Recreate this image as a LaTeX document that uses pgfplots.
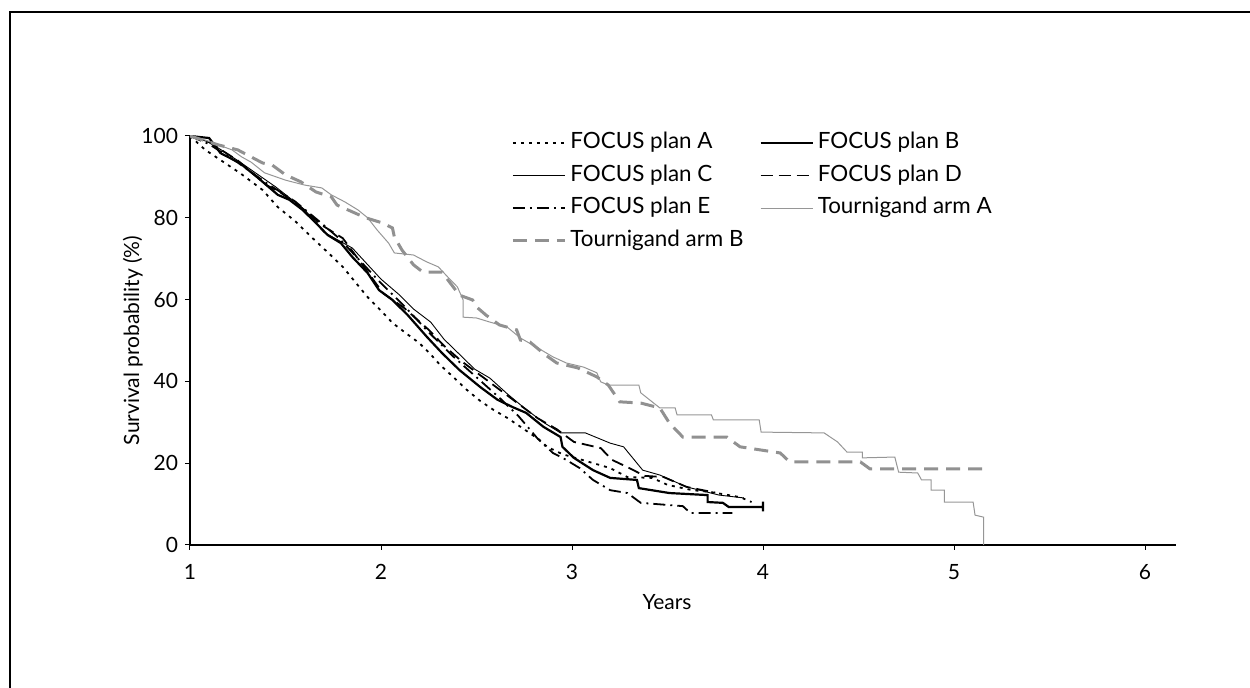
\documentclass[border=0pt]{standalone}
\usepackage{pgfplots}
\pgfplotsset{compat=1.18}
\usepackage{fontspec}
\setmainfont{Lato}
\definecolor{tgA}{RGB}{150,150,150}
\definecolor{tgB}{RGB}{145,145,145}
\begin{document}
\begin{tikzpicture}
\useasboundingbox (0,0) rectangle (625pt,344pt);
\draw[line width=1pt] (5pt,0pt) -- (5pt,338pt) -- (625pt,338pt);
\begin{axis}[
  at={(95pt,71.5pt)}, anchor=south west,
  scale only axis, width=492.8pt, height=204.5pt,
  xmin=1, xmax=6.16, ymin=0, ymax=100,
  axis x line*=bottom, axis y line*=left,
  axis line style={line width=0.6pt, black},
  xtick={1,2,3,4,5,6}, ytick={0,20,40,60,80,100},
  tick align=outside, major tick length=2.5pt,
  tick style={line width=0.5pt, black},
  font=\fontsize{10.5}{12}\selectfont,
  xticklabel style={yshift=-3.5pt},
  /pgf/number format/assume math mode=true,
  xlabel={Years}, ylabel={Survival probability (\%)},
  every axis x label/.style={at={(axis description cs:0.484,-0.139)},anchor=center},
  every axis y label/.style={at={(axis description cs:-0.058,0.5)},rotate=90,anchor=center},
  legend columns=2,
  legend cell align=left,
  legend style={draw=none, fill=none, at={(axis description cs:0.3196,1.03)}, anchor=north west,
    font=\fontsize{11.2}{12}\selectfont, row sep=1.5pt,
    nodes={inner sep=2pt, text height=8.3pt, text depth=2.5pt},
    /tikz/every even column/.append style={column sep=6pt}},
  legend image code/.code={\draw[#1] (0pt,0pt) -- (26pt,0pt);},
]
% FOCUS plan A
\addplot[black, line width=0.9pt, dash pattern=on 1.5pt off 2.5pt] coordinates {
(1,100)(1.08,96.6)(1.26,91.0)(1.38,86.8)(1.46,82.6)(1.55,79.2)(1.64,75.1)(1.72,71.6)(1.80,68.0)(1.87,64.0)(1.93,60.6)(2.00,57.3)(2.06,54.3)(2.13,51.8)(2.20,49.4)(2.26,46.6)(2.31,44.0)(2.38,41.0)(2.45,37.9)(2.52,35.2)(2.59,33.0)(2.66,31.1)(2.74,28.6)(2.83,25.7)(2.87,24.0)(2.95,22.2)(3.09,20.3)(3.20,18.8)(3.29,16.6)(3.42,16.4)(3.50,14.7)(3.63,13.4)(3.72,13.0)(3.88,11.7)(3.94,10.5)
};
\addlegendentry{FOCUS plan A}
% FOCUS plan B
\addplot[black, line width=1.1pt] coordinates {
(1.00,100)(1.10,99.5)(1.16,95.8)(1.26,93.4)(1.35,90.0)(1.46,85.6)(1.52,84.4)(1.59,81.9)(1.66,78.7)(1.72,75.8)(1.79,73.8)(1.85,70.4)(1.93,66.5)(1.99,62.3)(2.06,59.9)(2.14,56.2)(2.24,50.9)(2.32,46.9)(2.41,42.8)(2.52,38.6)(2.61,35.5)(2.69,33.7)(2.76,32.3)(2.85,28.9)(2.94,26.4)(2.95,24.0)(3.01,21.3)(3.11,18.3)(3.20,16.4)(3.34,15.9)(3.35,13.9)(3.51,12.7)(3.71,12.2)(3.71,10.5)(3.79,10.3)(3.82,9.3)(4.00,9.3)(4.00,10.6)(4.00,8.2)
};
\addlegendentry{FOCUS plan B}
% FOCUS plan C
\addplot[black, line width=0.45pt] coordinates {
(1,100)(1.10,98.5)(1.25,94)(1.45,87.5)(1.60,82)(1.70,76.5)(1.85,72.6)(2.00,65)(2.10,61)(2.17,57.7)(2.26,54.5)(2.33,50.3)(2.42,46.2)(2.49,43)(2.57,40.8)(2.66,37)(2.75,33.5)(2.85,30)(2.94,27.4)(3.07,27.4)(3.20,24.9)(3.27,24.0)(3.37,18.3)(3.46,17.1)(3.60,14.2)(3.77,12.2)(3.90,11.5)
};
\addlegendentry{FOCUS plan C}
% FOCUS plan D
\addplot[black, line width=0.9pt, dash pattern=on 6pt off 3pt] coordinates {
(1,100)(1.10,98.5)(1.25,94)(1.40,88)(1.47,86.3)(1.58,82.6)(1.69,78.2)(1.80,75)(1.90,68.7)(2.01,61.6)(2.12,58)(2.25,52.6)(2.33,48.7)(2.42,45)(2.52,41.5)(2.62,38)(2.72,34.5)(2.82,31)(2.92,28.3)(3.01,25.2)(3.15,23.7)(3.21,20.8)(3.30,18.8)(3.38,16.9)(3.48,16.6)(3.60,14.2)(3.75,12.8)
};
\addlegendentry{FOCUS plan D}
% FOCUS plan E
\addplot[black, line width=0.9pt, dash pattern=on 6pt off 2.5pt on 1pt off 2.5pt] coordinates {
(1,100)(1.10,98)(1.25,93.5)(1.40,88.5)(1.55,84)(1.68,79)(1.78,75)(1.88,70)(2.00,64)(2.12,58.5)(2.25,52)(2.38,46)(2.50,41)(2.62,36)(2.72,31.5)(2.82,26)(2.90,22.5)(2.97,20.8)(3.04,18.8)(3.11,15.9)(3.20,13.4)(3.29,12.7)(3.36,10.3)(3.58,9.5)(3.62,7.8)(3.84,7.8)
};
\addlegendentry{FOCUS plan E}
% Tournigand arm A
\addplot[tgA, line width=0.5pt] coordinates {
(1.00,100)(1.08,99.0)(1.15,97.8)(1.22,96.6)(1.27,94.9)(1.32,93.6)(1.39,91.0)(1.50,89.2)(1.60,88.0)(1.69,87.3)(1.74,85.6)(1.81,83.9)(1.88,81.9)(1.93,80.0)(1.98,77.0)(2.04,73.8)(2.07,71.4)(2.17,70.9)(2.24,69.2)(2.30,68.0)(2.35,65.5)(2.40,63.1)(2.43,59.9)(2.43,55.7)(2.50,55.5)(2.57,54.5)(2.66,53.3)(2.73,50.6)(2.82,48.2)(2.90,46.0)(2.97,44.5)(3.06,43.5)(3.13,42.1)(3.15,39.9)(3.19,39.1)(3.35,39.1)(3.36,37.2)(3.46,33.5)(3.54,33.5)(3.55,31.8)(3.73,31.8)(3.74,30.6)(3.98,30.6)(3.99,27.6)(4.32,27.4)(4.39,25.2)(4.44,22.7)(4.52,22.7)(4.52,21.3)(4.69,21.5)(4.71,17.8)(4.81,17.6)(4.83,15.9)(4.88,15.9)(4.88,13.4)(4.95,13.4)(4.95,10.5)(5.10,10.5)(5.11,7.3)(5.155,6.8)(5.155,0)
};
\addlegendentry{Tournigand arm A}
% Tournigand arm B
\addplot[tgB, line width=1.5pt, dash pattern=on 7pt off 4pt] coordinates {
(1,100)(1.15,97.8)(1.25,96.6)(1.38,93.4)(1.43,92.9)(1.50,90.5)(1.58,88.8)(1.66,86.3)(1.74,85.1)(1.77,83.1)(1.92,80.0)(2.01,78.7)(2.06,77.5)(2.07,75.3)(2.11,72.1)(2.17,68.5)(2.22,66.7)(2.32,66.7)(2.41,61.1)(2.48,59.9)(2.50,58.2)(2.55,56.2)(2.62,53.8)(2.71,52.6)(2.73,50.1)(2.78,49.6)(2.86,46.5)(2.92,44.5)(3.03,43.3)(3.13,41.1)(3.19,39.1)(3.25,35.0)(3.36,34.7)(3.46,33.5)(3.51,29.8)(3.58,26.4)(3.81,26.4)(3.88,24.0)(4.09,22.5)(4.14,20.3)(4.51,20.3)(4.56,18.6)(5.155,18.6)
};
\addlegendentry{Tournigand arm B}
\end{axis}
\end{tikzpicture}
\end{document}
